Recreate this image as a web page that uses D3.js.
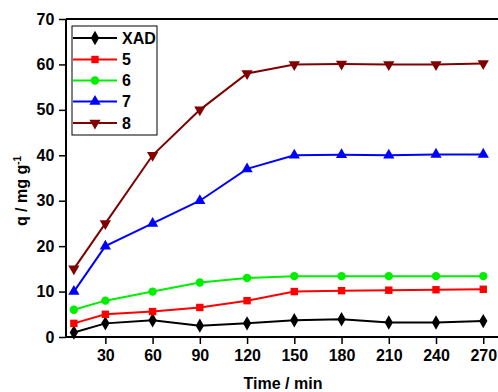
<!DOCTYPE html>
<html><head><meta charset="utf-8">
<script src="https://cdn.jsdelivr.net/npm/d3@7"></script>
<style>body{margin:0;background:#fff;} svg{display:block;font-family:Arial,"Liberation Sans",sans-serif;font-weight:bold;}</style>
</head><body>
<svg id="c" width="498" height="392"></svg>
<script>
const times = [10, 30, 60, 90, 120, 150, 180, 210, 240, 270];
const seriesNames = ["XAD", "5", "6", "7", "8"];
const valsXAD = [1.0, 3.0, 3.7, 2.5, 3.0, 3.7, 3.9, 3.2, 3.2, 3.5];
const vals5 = [3.0, 5.0, 5.6, 6.5, 8.0, 10.0, 10.2, 10.3, 10.4, 10.5];
const vals6 = [6.0, 8.0, 10.0, 12.0, 13.0, 13.4, 13.4, 13.4, 13.4, 13.4];
const vals7 = [10.0, 20.0, 25.0, 30.0, 37.0, 40.0, 40.1, 40.0, 40.2, 40.2];
const vals8 = [15.0, 25.0, 40.0, 50.0, 58.0, 60.0, 60.1, 60.0, 60.0, 60.2];
const xTicks = [30, 60, 90, 120, 150, 180, 210, 240, 270];
const yTicks = [0, 10, 20, 30, 40, 50, 60, 70];
const colors = ["#000000", "#ff0000", "#00ee00", "#0000ff", "#800000"];
const symbols = [d3.symbolDiamond, d3.symbolSquare, d3.symbolCircle, d3.symbolTriangle, d3.symbolTriangle];

const series = seriesNames.map((n, i) => ({name: n, values: [valsXAD, vals5, vals6, vals7, vals8][i], color: colors[i], sym: symbols[i], flip: i === 4}));

const svg = d3.select("#c");
const x = d3.scaleLinear().domain([5, 280]).range([66, 499]);
const y = d3.scaleLinear().domain([0, 70]).range([337, 19]);

svg.append("line").attr("x1", 66).attr("x2", 498).attr("y1", 19).attr("y2", 19).attr("stroke", "#000").attr("stroke-width", 2);

const gx = svg.append("g").attr("transform", "translate(0,337)");
gx.call(d3.axisBottom(x).tickValues(d3.range(15, 280, 15)).tickSize(4).tickFormat(""));
gx.call(d3.axisBottom(x).tickValues(xTicks).tickSize(7).tickFormat(d3.format("d")));
gx.selectAll(".domain").attr("stroke-width", 2);
gx.selectAll("line").attr("stroke-width", 1.5);
gx.selectAll("text").attr("font-size", 16).attr("font-weight", "bold").attr("fill", "#000").attr("dy", "0.85em");

const gy = svg.append("g").attr("transform", "translate(66,0)");
gy.call(d3.axisLeft(y).tickValues(d3.range(5, 70, 10)).tickSize(4).tickFormat(""));
gy.call(d3.axisLeft(y).tickValues(yTicks).tickSize(7).tickFormat(d3.format("d")));
gy.selectAll(".domain").attr("stroke-width", 2);
gy.selectAll("line").attr("stroke-width", 1.5);
gy.selectAll("text").attr("font-size", 16).attr("font-weight", "bold").attr("fill", "#000").attr("dx", "-0.1em");
gy.selectAll(".domain").attr("d", "M0,337V19");
gx.selectAll(".domain").attr("d", "M66,0H498");

const line = d3.line().x((d, i) => x(times[i])).y(d => y(d));
series.forEach(s => {
  svg.append("path").attr("d", line(s.values)).attr("fill", "none").attr("stroke", s.color).attr("stroke-width", 2);
  svg.selectAll(null).data(s.values).enter().append("path")
    .attr("d", d3.symbol().type(s.sym).size(s.sym === d3.symbolDiamond ? 60 : 55))
    .attr("transform", (d, i) => `translate(${x(times[i])},${y(d)})${s.flip ? " rotate(180)" : ""}`)
    .attr("fill", s.color);
});

const lg = svg.append("g");
lg.append("rect").attr("x", 72).attr("y", 26).attr("width", 85).attr("height", 109).attr("fill", "#fff").attr("stroke", "#000").attr("stroke-width", 1);
const ly = [38, 59.5, 80.5, 101.5, 123];
series.forEach((s, i) => {
  lg.append("line").attr("x1", 73).attr("x2", 117).attr("y1", ly[i]).attr("y2", ly[i]).attr("stroke", s.color).attr("stroke-width", 2);
  lg.append("path").attr("d", d3.symbol().type(s.sym).size(s.sym === d3.symbolDiamond ? 60 : 55)).attr("transform", `translate(95,${ly[i]})${s.flip ? " rotate(180)" : ""}`).attr("fill", s.color);
  lg.append("text").attr("x", 122).attr("y", ly[i]).attr("dy", "0.36em").attr("font-size", 16).attr("font-weight", "bold").text(s.name);
});

svg.append("text").attr("x", 283).attr("y", 389).attr("text-anchor", "middle").attr("font-size", 16).text("Time / min");
const yt = svg.append("text").attr("transform", "translate(27,191) rotate(-90)").attr("text-anchor", "middle").attr("font-size", 16);
yt.append("tspan").text("q / mg g");
yt.append("tspan").attr("dy", -6).attr("font-size", 10).text("-1");
</script>
</body></html>
